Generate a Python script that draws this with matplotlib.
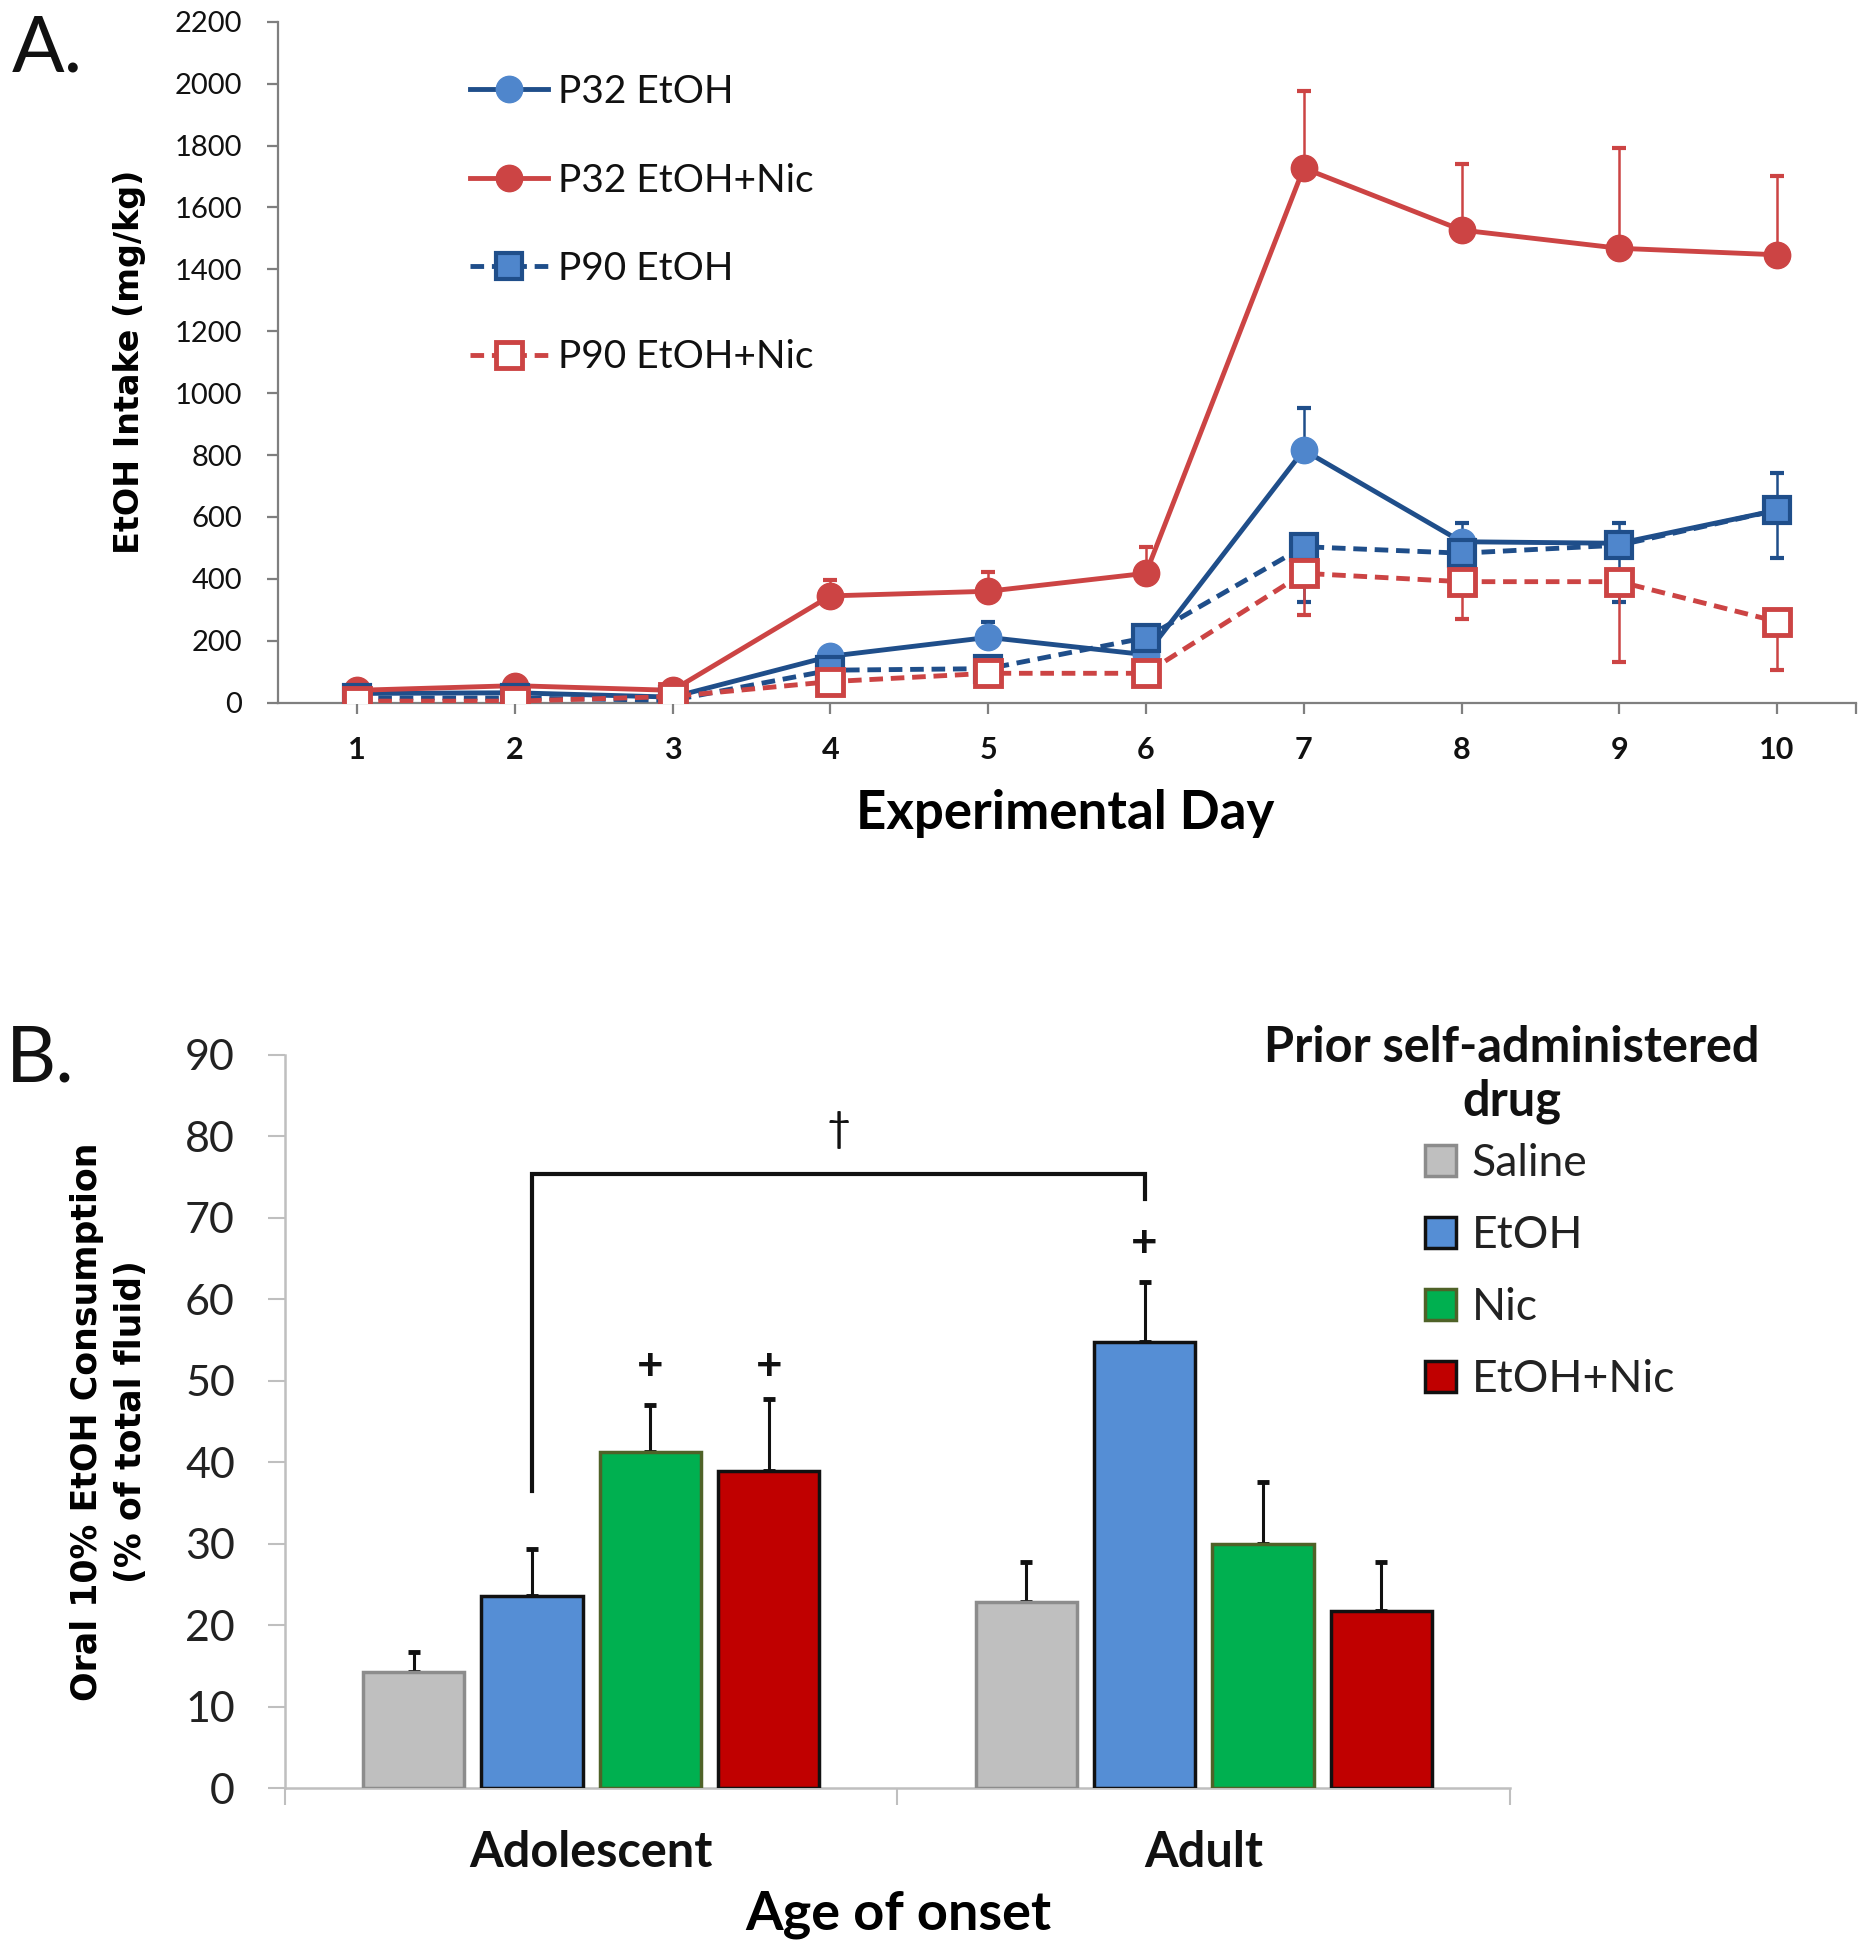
import matplotlib
matplotlib.use("Agg")
import matplotlib.pyplot as plt
import numpy as np
from matplotlib.patches import Patch

plt.rcParams['font.family'] = ['Lato', 'DejaVu Sans']

# ---------------- Panel A data ----------------
days = [1, 2, 3, 4, 5, 6, 7, 8, 9, 10]
p32_etoh = [30, 32, 18, 150, 211, 155, 816, 520, 515, 622]
p32_etoh_err = [8, 8, 8, 20, 51, 15, 135, 60, 67, 120]
p32_etohnic = [40, 55, 40, 345, 360, 418, 1727, 1527, 1468, 1447]
p32_etohnic_err = [10, 12, 10, 52, 63, 86, 250, 213, 325, 256]
p90_etoh = [15, 15, 8, 105, 110, 210, 504, 483, 509, 622]
p90_etoh_err = [5, 5, 5, 20, 20, 20, 178, 70, 183, 155]
p90_etohnic = [5, 5, 20, 68, 95, 95, 418, 391, 391, 262]
p90_etohnic_err = [3, 3, 5, 15, 15, 15, 135, 121, 259, 157]
series_names = ["P32 EtOH", "P32 EtOH+Nic", "P90 EtOH", "P90 EtOH+Nic"]
y_ticks_a = list(range(0, 2201, 200))

# ---------------- Panel B data ----------------
ages = ["Adolescent", "Adult"]
drugs = ["Saline", "EtOH", "Nic", "EtOH+Nic"]
pct_adolescent = [14.3, 23.6, 41.3, 38.9]
pct_adolescent_err = [2.4, 5.8, 5.7, 8.9]
pct_adult = [22.8, 54.7, 30.0, 21.7]
pct_adult_err = [5.0, 7.4, 7.6, 6.1]
y_ticks_b = list(range(0, 91, 10))
plus_marks = [(0, "Nic", 51.7), (0, "EtOH+Nic", 51.7), (1, "EtOH", 66.8)]
bracket_y = [36.5, 75.4, 75.4, 72.3]
dagger_y = 80.8

W, H = 1865, 1950
fig = plt.figure(figsize=(W / 100, H / 100), dpi=100)


def rect(l, t, r, b):
    return [l / W, 1 - b / H, (r - l) / W, (b - t) / H]


# ================= Panel A =================
axA = fig.add_axes(rect(278, 21.7, 1856, 702.7))
dark_blue = "#1F4E8A"
light_blue = "#4F86CC"
red = "#CC4444"

x = np.array(days)
zeros = np.zeros(len(days))

# P32 EtOH
axA.errorbar(x, p32_etoh, yerr=[zeros, p32_etoh_err], fmt='none', ecolor=dark_blue,
             elinewidth=1.8, capsize=5, capthick=3, zorder=2)
axA.plot(x, p32_etoh, color=dark_blue, lw=3.5, marker='o', ms=19, mfc=light_blue,
         mec=light_blue, zorder=3, label=series_names[0])
# P32 EtOH+Nic
axA.errorbar(x, p32_etohnic, yerr=[zeros, p32_etohnic_err], fmt='none', ecolor=red,
             elinewidth=1.8, capsize=5, capthick=3, zorder=4)
axA.plot(x, p32_etohnic, color=red, lw=3.5, marker='o', ms=19, mfc=red,
         mec=red, zorder=5, label=series_names[1])
# P90 EtOH
axA.errorbar(x, p90_etoh, yerr=[p90_etoh_err, zeros], fmt='none', ecolor=dark_blue,
             elinewidth=1.8, capsize=5, capthick=3, zorder=6)
axA.plot(x, p90_etoh, color=dark_blue, lw=3.5, ls=(0, (2.8, 1.6)), marker='s', ms=19,
         mfc=light_blue, mec=dark_blue, mew=3, zorder=7, label=series_names[2])
# P90 EtOH+Nic
axA.errorbar(x, p90_etohnic, yerr=[p90_etohnic_err, zeros], fmt='none', ecolor=red,
             elinewidth=1.8, capsize=5, capthick=3, zorder=8)
axA.plot(x, p90_etohnic, color=red, lw=3.5, ls=(0, (2.8, 1.6)), marker='s', ms=19,
         mfc='white', mec=red, mew=3.5, zorder=9, label=series_names[3])

axA.set_xlim(0.5, 10.5)
axA.set_ylim(0, 2200)
axA.set_yticks(y_ticks_a)
axA.set_yticklabels([str(v) for v in y_ticks_a], fontsize=21, color='#111111')
axA.set_xticks(days)
axA.set_xticklabels([str(d) for d in days], fontsize=22, fontweight='bold', color='#111111')
axA.set_xticks([10.5], minor=True)
for s in ['top', 'right']:
    axA.spines[s].set_visible(False)
for s in ['left', 'bottom']:
    axA.spines[s].set_color('#7F7F7F')
    axA.spines[s].set_linewidth(1.6)
axA.tick_params(axis='y', direction='out', length=8, width=1.6, color='#7F7F7F', pad=18)
axA.tick_params(axis='x', which='both', direction='out', length=8, width=1.6, color='#7F7F7F', pad=16)
axA.set_xlabel("Experimental Day", fontsize=38, fontweight='bold', va='center')
axA.xaxis.set_label_coords(0.499, -0.162)
axA.set_ylabel("EtOH Intake (mg/kg)", fontsize=24, fontweight='bold',
               family='DejaVu Sans', va='center', ha='center')
axA.yaxis.set_label_coords(-0.0944, 0.5)

legA = axA.legend(loc='upper left', bbox_to_anchor=(470 / W, 1 - 74 / H),
                  bbox_transform=fig.transFigure, frameon=False, fontsize=28,
                  handlelength=2.0, handletextpad=0.25, labelspacing=1.35,
                  numpoints=1, borderpad=0, borderaxespad=0)
for t in legA.get_texts():
    t.set_color('#111111')

fig.text(12 / W, 1 - 14 / H, "A.", fontsize=56, va='top', ha='left', color='#111111')

# ================= Panel B =================
axB = fig.add_axes(rect(285, 1055, 1510, 1788))
face = ["#BFBFBF", "#558ED5", "#00B050", "#C00000"]
edge = ["#8C8C8C", "#111111", "#4F6228", "#111111"]
offsets = [-0.29, -0.0967, 0.0967, 0.29]
width = 0.165
xc = np.arange(len(ages))
vals = np.array([pct_adolescent, pct_adult])
errs = np.array([pct_adolescent_err, pct_adult_err])
for j, d in enumerate(drugs):
    xs = xc + offsets[j]
    axB.errorbar(xs, vals[:, j], yerr=[np.zeros(2), errs[:, j]], fmt='none', ecolor='#111111',
                 elinewidth=2.2, capsize=4, capthick=3.5, zorder=2)
    axB.bar(xs, vals[:, j], width=width, color=face[j], edgecolor=edge[j], linewidth=2.5,
            zorder=3, label=d)

for gi, dname, yv in plus_marks:
    axB.text(gi + offsets[drugs.index(dname)], yv, "+", fontsize=33, fontweight='bold',
             ha='center', va='center', color='#111111')

bx_left = 0 + offsets[drugs.index("EtOH")]
bx_right = 1 + offsets[drugs.index("EtOH")]
axB.plot([bx_left, bx_left, bx_right, bx_right], bracket_y, color='#111111', lw=3,
         solid_joinstyle='miter', zorder=4)
axB.text((bx_left + bx_right) / 2, dagger_y, "\u2020", fontsize=30, ha='center', va='center',
         color='#111111')

axB.set_xlim(-0.5, 1.5)
axB.set_ylim(0, 90)
axB.set_yticks(y_ticks_b)
axB.set_yticklabels([str(v) for v in y_ticks_b], fontsize=31, color='#222222')
axB.set_xticks(xc)
axB.set_xticklabels(ages, fontsize=35, fontweight='bold', color='#111111')
axB.set_xticks([-0.5, 0.5, 1.5], minor=True)
axB.tick_params(axis='x', which='major', length=0, pad=30)
axB.tick_params(axis='x', which='minor', length=12, width=1.5, color='#BFBFBF', direction='out')
axB.tick_params(axis='y', length=12, width=1.5, color='#BFBFBF', direction='out', pad=24)
for s in ['top', 'right']:
    axB.spines[s].set_visible(False)
for s in ['left', 'bottom']:
    axB.spines[s].set_color('#BFBFBF')
    axB.spines[s].set_linewidth(1.8)
axB.set_xlabel("Age of onset", fontsize=39, fontweight='bold', va='center')
axB.xaxis.set_label_coords(0.501, -0.172)
axB.set_ylabel("Oral 10% EtOH Consumption\n(% of total fluid)", fontsize=25, fontweight='bold',
               family='DejaVu Sans', va='center', ha='center', linespacing=1.35)
axB.yaxis.set_label_coords(-0.1437, 0.5)

fig.text(1512 / W, 1 - 1047 / H, "Prior self-administered", fontsize=35, fontweight='bold',
         ha='center', va='center', color='#111111')
fig.text(1512 / W, 1 - 1101 / H, "drug", fontsize=35, fontweight='bold',
         ha='center', va='center', color='#111111')
handles = [Patch(facecolor=face[j], edgecolor=edge[j], linewidth=2.5) for j in range(4)]
legB = fig.legend(handles, drugs, loc='upper left', bbox_to_anchor=(1425 / W, 1 - 1143 / H),
                  frameon=False, handlelength=0.7, handleheight=0.7,
                  handletextpad=0.35, labelspacing=0.7, borderpad=0, borderaxespad=0,
                  prop={'size': 32})
for t in legB.get_texts():
    t.set_color('#222222')
fig.text(6 / W, 1 - 1024 / H, "B.", fontsize=56, va='top', ha='left', color='#111111')

fig.savefig("out.png", dpi=100)
